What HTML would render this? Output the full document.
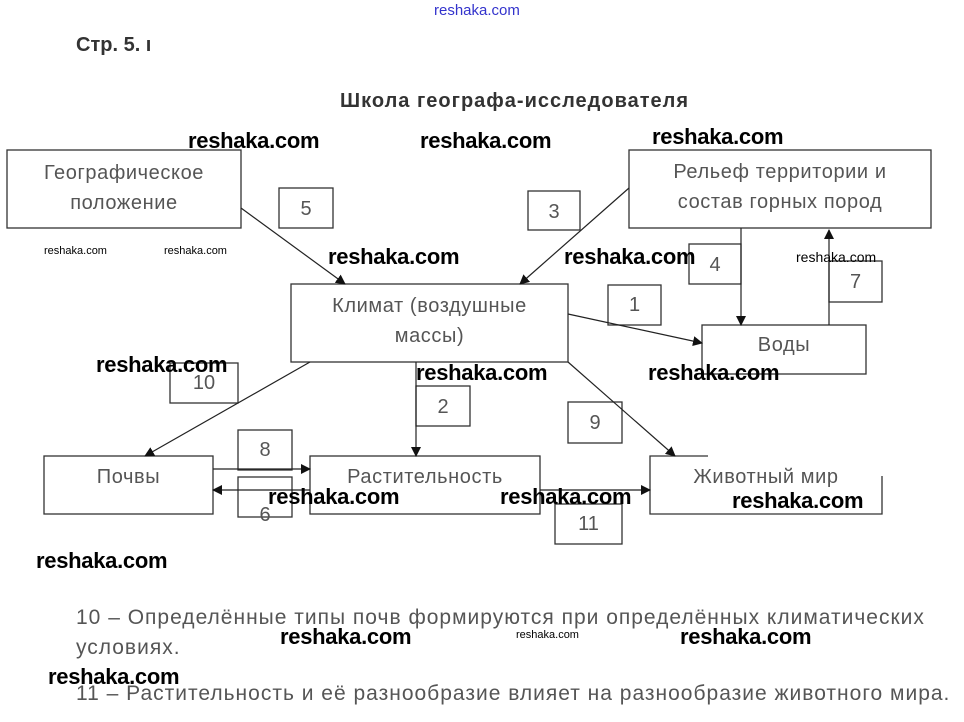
<!DOCTYPE html>
<html><head><meta charset="utf-8"><style>
body{margin:0;width:964px;height:722px;background:#fff;overflow:hidden;position:relative;font-family:"Liberation Sans",sans-serif}
.t{position:absolute;white-space:nowrap}
.g{color:#555;font-size:20px;letter-spacing:0.6px}
.n{color:#555;font-size:20px}
.w{font-weight:bold;color:#000;font-size:22px;letter-spacing:-0.3px}
.s{color:#000;font-size:11px}
</style></head><body>
<svg width="964" height="722" style="position:absolute;left:0;top:0">
<defs><marker id="a" markerWidth="10" markerHeight="10" refX="9" refY="5" orient="auto" markerUnits="userSpaceOnUse"><path d="M0,0L10,5L0,10z" fill="#111"/></marker></defs>
<g fill="none" stroke="#333" stroke-width="1.3">
<rect x="7" y="150" width="234" height="78"/>
<rect x="629" y="150" width="302" height="78"/>
<rect x="291" y="284" width="277" height="78"/>
<rect x="702" y="325" width="164" height="49"/>
<rect x="44" y="456" width="169" height="58"/>
<rect x="310" y="456" width="230" height="58"/>
<path d="M708,456H650V514H882V476"/>
<rect x="279" y="188" width="54" height="40"/>
<rect x="528" y="191" width="52" height="39"/>
<rect x="689" y="244" width="52" height="40"/>
<rect x="829" y="261" width="53" height="41"/>
<rect x="608" y="285" width="53" height="40"/>
<rect x="170" y="363" width="68" height="40"/>
<rect x="416" y="386" width="54" height="40"/>
<rect x="568" y="402" width="54" height="41"/>
<rect x="238" y="430" width="54" height="40"/>
<rect x="238" y="477" width="54" height="40"/>
<rect x="555" y="504" width="67" height="40"/>
</g>
<g stroke="#222" stroke-width="1.2" marker-end="url(#a)">
<line x1="241" y1="208" x2="345" y2="284"/>
<line x1="629" y1="188" x2="520" y2="284"/>
<line x1="568" y1="314" x2="702" y2="343"/>
<line x1="741" y1="228" x2="741" y2="325"/>
<line x1="829" y1="325" x2="829" y2="230"/>
<line x1="310" y1="362" x2="145" y2="456"/>
<line x1="416" y1="362" x2="416" y2="456"/>
<line x1="568" y1="362" x2="675" y2="456"/>
<line x1="213" y1="469" x2="310" y2="469"/>
<line x1="310" y1="490" x2="213" y2="490"/>
<line x1="540" y1="490" x2="650" y2="490"/>
</g>
</svg>
<div class="t" style="left:434px;top:2px;color:#33c;font-size:15px">reshaka.com</div>
<div class="t" style="left:76px;top:34px;font-weight:bold;font-size:20px;color:#333">Стр. 5. ı</div>
<div class="t" style="left:340px;top:90px;font-weight:bold;font-size:20px;letter-spacing:1px;color:#333">Школа географа-исследователя</div>
<div class="t g" style="left:7px;top:158px;width:234px;text-align:center;line-height:30px">Географическое<br>положение</div>
<div class="t g" style="left:629px;top:157px;width:302px;text-align:center;line-height:30px">Рельеф территории и<br>состав горных пород</div>
<div class="t g" style="left:291px;top:291px;width:277px;text-align:center;line-height:30px">Климат (воздушные<br>массы)</div>
<div class="t g" style="left:702px;top:334px;width:164px;text-align:center">Воды</div>
<div class="t g" style="left:44px;top:466px;width:169px;text-align:center">Почвы</div>
<div class="t g" style="left:310px;top:466px;width:230px;text-align:center">Растительность</div>
<div class="t g" style="left:650px;top:466px;width:232px;text-align:center">Животный мир</div>
<div class="t n" style="left:279px;top:198px;width:54px;text-align:center">5</div>
<div class="t n" style="left:528px;top:201px;width:52px;text-align:center">3</div>
<div class="t n" style="left:689px;top:254px;width:52px;text-align:center">4</div>
<div class="t n" style="left:829px;top:271px;width:53px;text-align:center">7</div>
<div class="t n" style="left:608px;top:294px;width:53px;text-align:center">1</div>
<div class="t n" style="left:170px;top:372px;width:68px;text-align:center">10</div>
<div class="t n" style="left:416px;top:396px;width:54px;text-align:center">2</div>
<div class="t n" style="left:568px;top:412px;width:54px;text-align:center">9</div>
<div class="t n" style="left:238px;top:439px;width:54px;text-align:center">8</div>
<div class="t n" style="left:238px;top:504px;width:54px;text-align:center">6</div>
<div class="t n" style="left:555px;top:513px;width:67px;text-align:center">11</div>
<div class="t" style="left:76px;top:603px;line-height:30px;font-size:21px;letter-spacing:1px;color:#555">10 – Определённые типы почв формируются при определённых климатических<br>условиях.</div>
<div class="t" style="left:76px;top:682px;font-size:21px;letter-spacing:1px;color:#555">11 – Растительность и её разнообразие влияет на разнообразие животного мира.</div>
<div class="t w" style="left:188px;top:128px">reshaka.com</div>
<div class="t w" style="left:420px;top:128px">reshaka.com</div>
<div class="t w" style="left:652px;top:124px">reshaka.com</div>
<div class="t w" style="left:328px;top:244px">reshaka.com</div>
<div class="t w" style="left:564px;top:244px">reshaka.com</div>
<div class="t w" style="left:96px;top:352px">reshaka.com</div>
<div class="t w" style="left:416px;top:360px">reshaka.com</div>
<div class="t w" style="left:648px;top:360px">reshaka.com</div>
<div class="t w" style="left:268px;top:484px">reshaka.com</div>
<div class="t w" style="left:500px;top:484px">reshaka.com</div>
<div class="t w" style="left:732px;top:488px">reshaka.com</div>
<div class="t w" style="left:36px;top:548px">reshaka.com</div>
<div class="t w" style="left:280px;top:624px">reshaka.com</div>
<div class="t w" style="left:680px;top:624px">reshaka.com</div>
<div class="t w" style="left:48px;top:664px">reshaka.com</div>
<div class="t s" style="left:44px;top:245px">reshaka.com</div>
<div class="t s" style="left:164px;top:245px">reshaka.com</div>
<div class="t s" style="left:796px;top:249px;font-size:14px">reshaka.com</div>
<div class="t s" style="left:516px;top:629px">reshaka.com</div>
</body></html>
